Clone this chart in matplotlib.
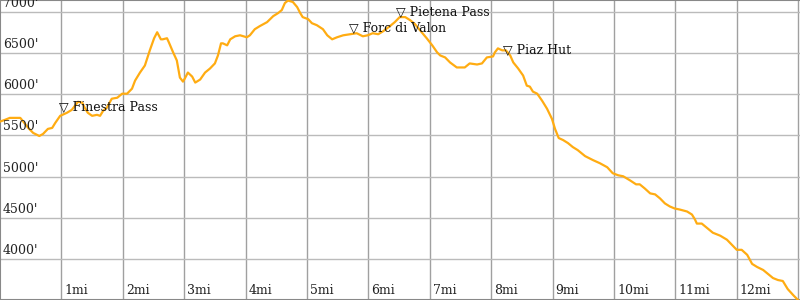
import matplotlib
matplotlib.use("Agg")
import matplotlib.pyplot as plt
import matplotlib.transforms as mtransforms

# distance along the trail (miles) and elevation (feet)
miles = [0.00, 0.08, 0.16, 0.33, 0.37, 0.46, 0.54, 0.64, 0.70, 0.78, 0.85, 0.90, 0.98,
         1.09, 1.17, 1.22, 1.27, 1.34, 1.38, 1.43, 1.50, 1.58, 1.63, 1.68, 1.74, 1.82,
         1.91, 1.99, 2.07, 2.15, 2.20, 2.28, 2.36, 2.44, 2.51, 2.56, 2.62, 2.65, 2.72,
         2.75, 2.82, 2.88, 2.93, 2.98, 3.01, 3.06, 3.13, 3.18, 3.26,
         3.34, 3.42, 3.50, 3.55, 3.60, 3.63, 3.70, 3.75, 3.83, 3.91, 4.02, 4.07, 4.15,
         4.23, 4.35, 4.45, 4.53, 4.59, 4.64, 4.69, 4.77, 4.84, 4.89, 4.93, 5.02, 5.08,
         5.16, 5.26, 5.33, 5.41, 5.49, 5.59, 5.70, 5.81, 5.91, 5.99, 6.07, 6.16, 6.24,
         6.35, 6.43, 6.51,
         6.60, 6.68, 6.76, 6.84, 6.95, 7.04, 7.12, 7.17, 7.25, 7.33, 7.44, 7.52, 7.57,
         7.65, 7.77, 7.85, 7.93, 8.03, 8.06, 8.11, 8.18, 8.24, 8.31, 8.36, 8.44, 8.52,
         8.58, 8.63, 8.68, 8.75, 8.83, 8.91, 8.99, 9.04, 9.10, 9.17, 9.25, 9.33, 9.41,
         9.53, 9.66, 9.77, 9.89, 9.98, 10.07, 10.15, 10.26, 10.36, 10.42, 10.50, 10.59,
         10.67, 10.75, 10.83, 10.91, 10.99, 11.07, 11.19, 11.27, 11.32, 11.35, 11.43,
         11.51, 11.61, 11.73, 11.84, 11.92, 12.00, 12.08, 12.17, 12.25, 12.33, 12.43,
         12.51, 12.59, 12.67, 12.75, 12.83, 12.92, 13.00]
elevation = [5669, 5690, 5714, 5714, 5678, 5592, 5531, 5494, 5518, 5580, 5592, 5653, 5739,
             5776, 5812, 5861, 5910, 5898, 5837, 5776, 5739, 5751, 5739, 5800, 5837, 5947,
             5959, 6008, 6008, 6069, 6167, 6265, 6351, 6535, 6682, 6755, 6669, 6669, 6682,
             6633, 6510, 6412, 6204, 6155, 6192, 6265, 6216, 6143, 6180,
             6265, 6314, 6376, 6473, 6620, 6620, 6596, 6669, 6706, 6718, 6694, 6718, 6792,
             6829, 6878, 6951, 6988, 7025, 7110, 7140, 7123, 7061, 6988, 6939, 6914, 6865,
             6841, 6792, 6718, 6669, 6694, 6718, 6731, 6743, 6706, 6718, 6743, 6731, 6767,
             6829, 6878, 6939,
             6939, 6902, 6853, 6780, 6682, 6596, 6510, 6473, 6449, 6388, 6327, 6327, 6327,
             6376, 6363, 6376, 6449, 6461, 6510, 6559, 6535, 6535, 6473, 6388, 6314, 6229,
             6106, 6094, 6033, 6008, 5922, 5825, 5702, 5580, 5469, 5445, 5408, 5359, 5322,
             5249, 5200, 5163, 5114, 5041, 5016, 5004, 4955, 4906, 4906, 4857, 4796,
             4784, 4735, 4674, 4637, 4612, 4600, 4576, 4539, 4478, 4429, 4429,
             4380, 4318, 4282, 4233, 4171, 4110, 4110, 4049, 3939, 3902, 3865,
             3816, 3767, 3743, 3731, 3633, 3559, 3498]

# named waypoints
poi_names = ["Finestra Pass", "Forc di Valon", "Pietena Pass", "Piaz Hut"]
poi_miles = [1.08, 5.80, 6.57, 8.31]
poi_elev = [5790, 6743, 6935, 6473]

x_ticks = list(range(1, 14))
y_ticks = [4000, 4500, 5000, 5500, 6000, 6500, 7000]

font = ["DejaVu Serif", "DejaVu Sans"]

fig = plt.figure(figsize=(8, 3), dpi=100)
ax = fig.add_axes([0, 0, 1, 1])
ax.set_xlim(0, 13.03)
ax.set_ylim(3500, 7147)

for x in x_ticks:
    ax.axvline(x, color="#a0a0a0", lw=1, zorder=1)
for y in y_ticks:
    ax.axhline(y, color="#bbbbbb", lw=1, zorder=1)

ax.plot(miles, elevation, color="#ffac12", lw=1.6, zorder=3)

bottom = mtransforms.blended_transform_factory(ax.transData, ax.transAxes)
left = mtransforms.blended_transform_factory(ax.transAxes, ax.transData)
for x in x_ticks[:-1]:
    ax.annotate(f"{x}mi", (x, 0), xycoords=bottom, xytext=(3, 3),
                textcoords="offset pixels", ha="left", va="bottom",
                fontsize=9, family=font, color="#222222")
for y in y_ticks:
    ax.annotate(f"{y}'", (0, y), xycoords=left, xytext=(3, 2),
                textcoords="offset pixels", ha="left", va="bottom",
                fontsize=9, family=font, color="#222222")

for name, m, e in zip(poi_names, poi_miles, poi_elev):
    ax.annotate(f"\u25bd {name}", (m, e), xytext=(-7, 1),
                textcoords="offset pixels", ha="left", va="baseline",
                fontsize=9, family=font, color="#111111", zorder=4)

ax.set_xticks([])
ax.set_yticks([])
for side in ["top", "left", "bottom", "right"]:
    ax.spines[side].set_color("#888888")
    ax.spines[side].set_linewidth(1.5)
ax.spines["right"].set_visible(False)

fig.savefig("out.png", dpi=100)
